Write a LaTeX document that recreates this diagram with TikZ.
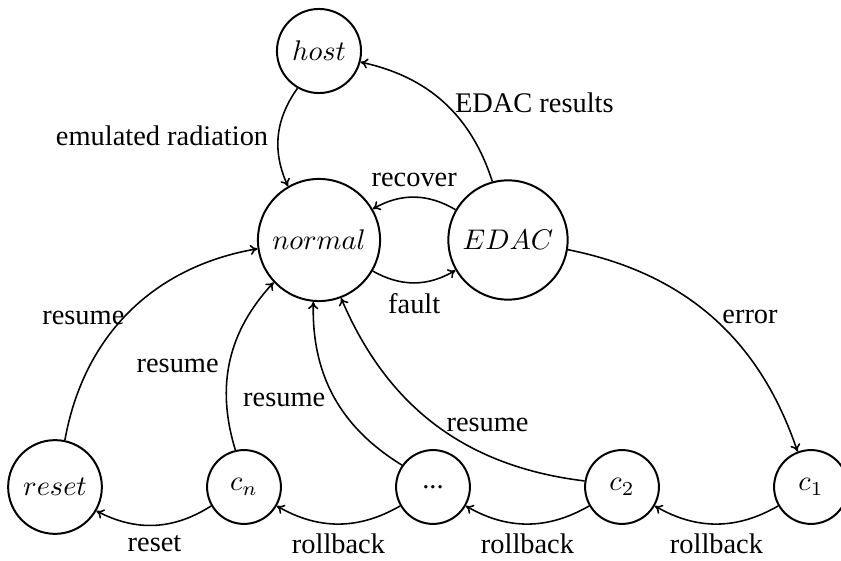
\documentclass[tikz,border=0pt]{standalone}
\usepackage{fontspec}
\setmainfont{Liberation Serif}
\usetikzlibrary{arrows.meta}
\begin{document}
\begin{tikzpicture}[x=0.3521pt, y=0.3521pt,
  state/.style={circle, draw, line width=0.7pt, inner sep=1pt},
  chk/.style={state, minimum size=26pt},
  edge/.style={-{To[length=2.6pt, width=3.6pt]}, line width=0.55pt}]
\useasboundingbox (0,0) rectangle (841,561);

% states
\node[state, minimum size=29.6pt] (host)   at (319,510) {$host$};
\node[state, minimum size=43pt]   (normal) at (319,321) {$normal$};
\node[state, minimum size=42pt]   (EDAC)   at (508,321) {$EDAC$};
\node[state, minimum size=33pt]   (reset)  at (55,74)   {$reset$};
\node[chk] (cn)   at (244,74) {$c_n$};
\node[chk] (dots) at (433,74) {...};
\node[chk] (c2)   at (622,74) {$c_2$};
\node[chk] (c1)   at (811,74) {$c_1$};

% transitions
\draw[edge] (host) to[bend right=30] node[pos=0.5, anchor=east] {emulated radiation} (normal);
\draw[edge] (EDAC) to[bend right=30] node[pos=0.46, anchor=west, xshift=-1.5pt, yshift=1.5pt] {EDAC results} (host);
\draw[edge] (EDAC) to[bend right=30] node[above] {recover} (normal);
\draw[edge] (normal) to[bend right=30] node[below] {fault} (EDAC);
\draw[edge] (EDAC) to[bend left=30] node[pos=0.5, anchor=west] {error} (c1);

\draw[edge] (c1) to[bend left=30] node[below] {rollback} (c2);
\draw[edge] (c2) to[bend left=30] node[below] {rollback} (dots);
\draw[edge] (dots) to[bend left=30] node[below] {rollback} (cn);
\draw[edge] (cn) to[bend left=30] node[below] {reset} (reset);

\draw[edge] (reset) to[bend left=35] node[pos=0.47, anchor=east, xshift=4pt] {resume} (normal);
\draw[edge] (cn) to[bend left=30] node[pos=0.47, anchor=east] {resume} (normal);
\draw[edge] (dots) to[bend left=30] node[pos=0.48, anchor=east] {resume} (normal);
\draw[edge] (c2) to[bend left=30] node[pos=0.36, anchor=south, xshift=5.5pt, yshift=2pt] {resume} (normal);
\end{tikzpicture}
\end{document}
